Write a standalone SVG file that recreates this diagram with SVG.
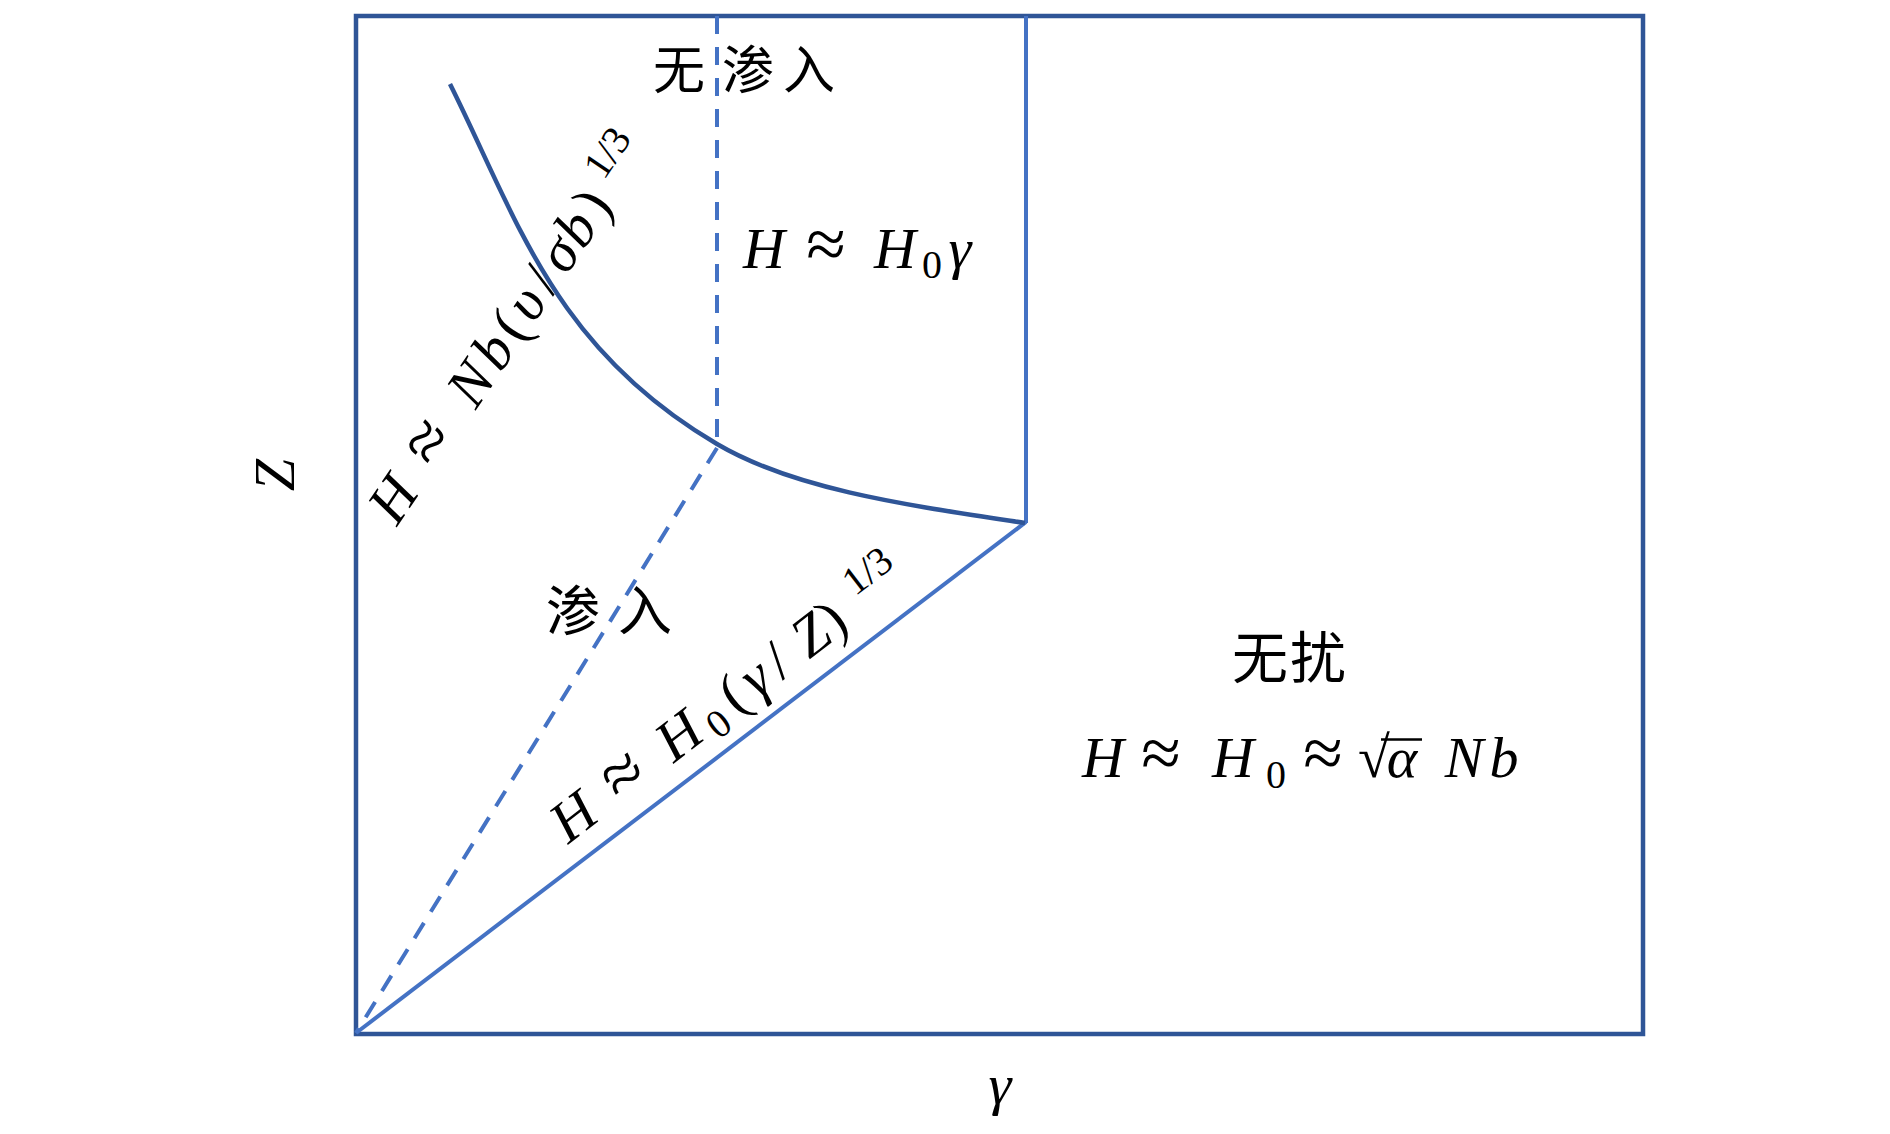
<svg xmlns="http://www.w3.org/2000/svg" width="1890" height="1134" viewBox="0 0 1890 1134">
<style>
.dark{fill:none;stroke:#2F5597;stroke-width:4.5}
.light{fill:none;stroke:#4472C4;stroke-width:4}
.dash{stroke-dasharray:18 13}
.m{font-family:'Liberation Serif','Times New Roman',serif;font-style:italic;font-size:58px;fill:#000;text-anchor:middle}
.u{font-style:normal}
.ap{font-style:normal;font-size:72px}
.sub{font-style:normal;font-size:40px}
.cjk{font-family:'Noto Sans CJK SC','Noto Sans CJK JP',sans-serif;fill:#000;text-anchor:middle}
</style>
<rect width="1890" height="1134" fill="#fff"/>
<g id="frame">
<rect class="dark" x="356" y="16" width="1287" height="1018"/>
</g>
<g id="connectors">
<line class="light" x1="1026" y1="16" x2="1026" y2="523"/>
<line class="light" x1="356" y1="1033" x2="1026" y2="522"/>
<line class="light dash" x1="717" y1="16" x2="717" y2="448"/>
<line class="light dash" x1="717" y1="448" x2="356" y2="1033"/>
<path id="curve" class="dark" d="M450,84 C517,218 553.2,347.7 717,444 C794.6,489.6 906.3,505 1025,523"/>
</g>
<g id="region-no-penetration">
<text class="cjk" font-size="52" y="89"><tspan x="679">无</tspan><tspan x="748">渗</tspan><tspan x="809">入</tspan></text>
<text class="m" y="268"><tspan x="764">H</tspan><tspan class="ap" x="826">≈</tspan><tspan x="895">H</tspan><tspan class="sub" x="932" y="278">0</tspan><tspan x="960" y="268">γ</tspan></text>
</g>
<g id="region-penetration">
<text class="cjk" font-size="54" y="631"><tspan x="573">渗</tspan><tspan x="645">入</tspan></text>
</g>
<g id="label-curve">
<text class="m" transform="translate(397,527) rotate(-56)"><tspan x="21">H</tspan><tspan class="ap" x="88">≈</tspan><tspan x="160">N</tspan><tspan x="200">b</tspan><tspan class="u" x="230">(</tspan><tspan x="258">υ</tspan><tspan class="u" x="286">/</tspan><tspan x="317">σ</tspan><tspan x="348">b</tspan><tspan class="u" x="378">)</tspan><tspan class="sub" x="428" y="-22">1/3</tspan></text>
</g>
<g id="label-diagonal">
<text class="m" transform="translate(569,844) rotate(-37.5)"><tspan x="20">H</tspan><tspan class="ap" x="85">≈</tspan><tspan x="153">H</tspan><tspan class="sub" x="192" y="9">0</tspan><tspan class="u" x="221" y="0">(</tspan><tspan x="249">γ</tspan><tspan class="u" x="277">/</tspan><tspan x="319">Z</tspan><tspan class="u" x="346">)</tspan><tspan class="sub" x="403" y="-22">1/3</tspan></text>
</g>
<g id="region-undisturbed">
<text class="cjk" font-size="56" y="678"><tspan x="1260">无</tspan><tspan x="1318">扰</tspan></text>
<text class="m" y="777"><tspan x="1103">H</tspan><tspan class="ap" x="1161">≈</tspan><tspan x="1233">H</tspan><tspan class="sub" x="1276" y="788">0</tspan><tspan class="ap" x="1323" y="777">≈</tspan><tspan class="u" x="1374">√</tspan><tspan x="1402">α</tspan><tspan x="1464">N</tspan><tspan x="1504">b</tspan></text>
<line x1="1381" y1="739.5" x2="1422" y2="739.5" stroke="#000" stroke-width="2.5"/>
</g>
<g id="axes">
<text class="m" transform="translate(294,475) rotate(-90)">Z</text>
<text class="m" x="1000" y="1104">γ</text>
</g>
</svg>
